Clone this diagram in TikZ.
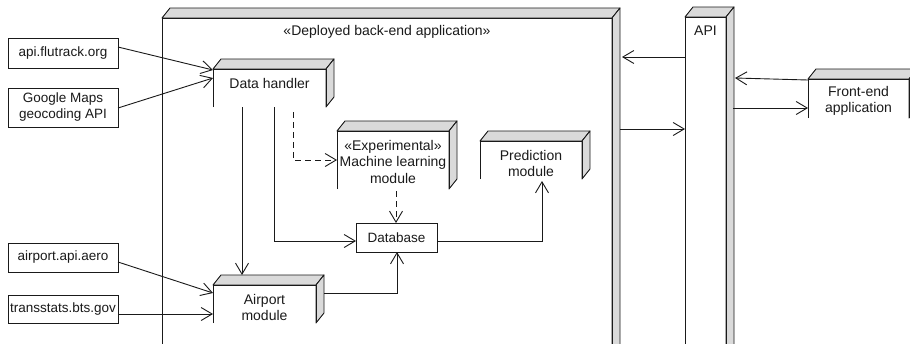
\documentclass[tikz,border=0pt]{standalone}
\usepackage{fontspec}
\setmainfont{Liberation Sans}
\usetikzlibrary{arrows.meta}
\definecolor{facegray}{HTML}{DADADA}
\definecolor{ink}{HTML}{1A1A1A}

\tikzset{
  body/.style={rectangle, draw=none, inner sep=0pt, outer sep=0pt, anchor=north west},
  srcbox/.style={rectangle, draw=ink, line width=0.9pt, inner sep=0pt, outer sep=0pt,
    anchor=north west, align=center, text=ink, font=\fontsize{13.5}{16}\selectfont},
  caption/.style={font=\fontsize{14}{16.5}\selectfont, text=ink, align=center, inner sep=0pt},
  flow/.style={draw=ink, line width=0.9pt, -{Straight Barb[length=11pt,width=13pt]}},
  dep/.style={flow, dash pattern=on 6pt off 4pt},
  frameline/.style={draw=ink, line width=0.9pt, line join=round},
}

% Outline of a 3D deployment node: shaded top and side faces, front face open at the bottom
\newcommand\nodeframe[1]{%
  \filldraw[frameline, fill=facegray]
    (#1.north west) -- ([xshift=8pt,yshift=10pt]#1.north west)
    -- ([xshift=8pt,yshift=10pt]#1.north east) -- (#1.north east) -- cycle;
  \filldraw[frameline, fill=facegray]
    (#1.north east) -- ([xshift=8pt,yshift=10pt]#1.north east)
    -- ([xshift=8pt,yshift=10pt]#1.south east) -- (#1.south east) -- cycle;
  \draw[frameline] (#1.south west) -- (#1.north west) -- (#1.north east) -- (#1.south east);
}

\begin{document}
\begin{tikzpicture}[x=1pt, y=-1pt]
\path[use as bounding box, clip] (0,0) rectangle (910,343);
\fill[white] (0,0) rectangle (910,343);

% deployment nodes
\node[body, minimum width=450pt, minimum height=340pt] (be) at (162,18) {};
\node[body, minimum width=41pt,  minimum height=340pt] (api) at (685,17) {};
\node[body, minimum width=101pt, minimum height=39pt]  (fe) at (808,79) {};
\node[body, minimum width=113pt, minimum height=38pt]  (dh) at (213,69) {};
\node[body, minimum width=112pt, minimum height=58pt]  (ml) at (337,131) {};
\node[body, minimum width=102pt, minimum height=38pt]  (pm) at (480,141) {};
\node[body, minimum width=103pt, minimum height=38pt]  (am) at (213,285) {};
\foreach \n in {be,api,fe,dh,ml,pm,am} {\nodeframe{\n}}

\node[caption] (be-t) at ([yshift=-14pt]be.north) {«Deployed back-end application»};
\node[caption] (api-t) at ([yshift=-14pt]api.north) {API};
\node[caption] (fe-t) at ([yshift=-22pt]fe.north) {Front-end\\application};
\node[caption] (dh-t) at ([yshift=-14pt]dh.north) {Data handler};
\node[caption] (ml-t) at ([yshift=-30.5pt]ml.north) {«Experimental»\\Machine learning\\module};
\node[caption] (pm-t) at ([yshift=-22.5pt]pm.north) {Prediction\\module};
\node[caption] (am-t) at ([yshift=-22.5pt]am.north) {Airport\\module};

% plain boxes
\node[srcbox, minimum width=81pt,  minimum height=29pt] (db) at (356,223) {Database};
\node[srcbox, minimum width=110pt, minimum height=30pt] (flut) at (8,38) {api.flutrack.org};
\node[srcbox, minimum width=110pt, minimum height=39pt] (gmaps) at (8,88) {Google Maps\\geocoding API};
\node[srcbox, minimum width=110pt, minimum height=29pt] (aero) at (8,243) {airport.api.aero};
\node[srcbox, minimum width=110pt, minimum height=28pt] (bts) at (8,295) {transstats.bts.gov};

% external data sources
\draw[flow] ([yshift=-9pt]flut.north east) -- ([yshift=-1pt]dh.north west);
\draw[flow] ([yshift=-20pt]gmaps.north east) -- ([yshift=-9pt]dh.north west);
\draw[flow] ([yshift=-19pt]aero.north east) -- ([yshift=-8pt]am.north west);
\draw[flow] ([yshift=-19pt]bts.north east) -- ([yshift=-29pt]am.north west);

% inside the back-end
\draw[flow] ([xshift=29pt]dh.south west) -- ([xshift=29pt,yshift=10pt]am.north west);
\draw[flow] ([xshift=61pt]dh.south west) |- ([yshift=-18pt]db.north west);
\draw[dep]  ([xshift=80pt,yshift=-5pt]dh.south west) |- ([yshift=-29pt]ml.north west);
\draw[dep]  ([xshift=59pt,yshift=-2pt]ml.south west) -- ([xshift=40pt]db.north west);
\draw[flow] ([xshift=8pt,yshift=-8pt]am.north east) -| ([xshift=41pt]db.south west);
\draw[flow] ([yshift=-18pt]db.north east) -| ([xshift=62pt,yshift=-2pt]pm.south west);

% API traffic
\draw[flow] ([yshift=-40pt]api.north west) -- ([xshift=10pt,yshift=-39pt]be.north east);
\draw[flow] ([xshift=8pt,yshift=-111pt]be.north east) -- ([yshift=-112pt]api.north west);
\draw[flow] ([yshift=-1pt]fe.north west) -- ([xshift=9pt,yshift=-61pt]api.north east);
\draw[flow] ([xshift=7pt,yshift=-91pt]api.north east) -- ([yshift=-29pt]fe.north west);
\end{tikzpicture}
\end{document}
